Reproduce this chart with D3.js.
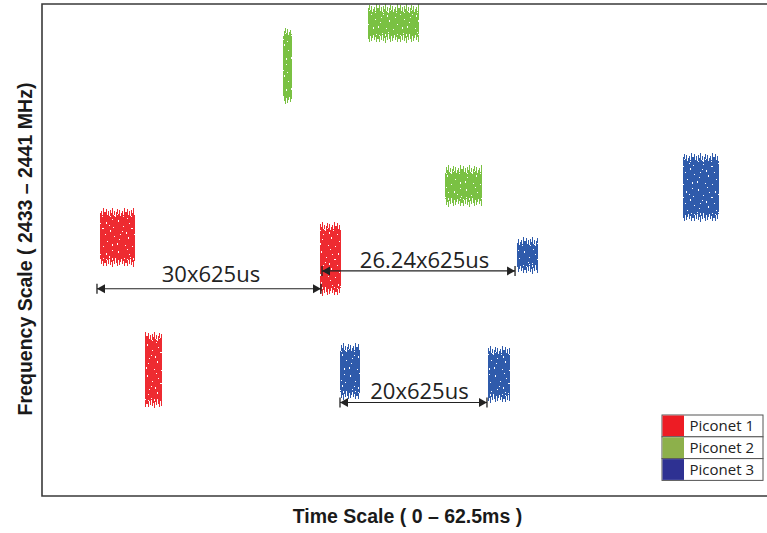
<!DOCTYPE html>
<html>
<head>
<meta charset="utf-8">
<script src="https://cdn.jsdelivr.net/npm/d3@7"></script>
<style>
  html, body { margin: 0; padding: 0; background: #fff; }
  svg { display: block; }
</style>
</head>
<body>
<svg id="chart" width="767" height="533"></svg>
<script>
// ---------- DATA ----------
const piconets = ["Piconet 1", "Piconet 2", "Piconet 3"];
// each burst: piconet index, time start/end (ms), freq low/high (MHz)
const burstPiconet = [0, 0, 0, 1, 1, 1, 2, 2, 2, 2];
const burstStart   = [5.00, 23.97, 8.88, 20.78, 28.10, 34.74, 55.26, 40.95, 25.69, 38.45];
const burstEnd     = [8.02, 25.78, 10.34, 21.55, 32.50, 37.93, 58.36, 42.76, 27.41, 40.34];
const burstFreqLo  = [2436.72, 2436.25, 2434.43, 2439.36, 2440.37, 2437.70, 2437.46, 2436.61, 2434.56, 2434.51];
const burstFreqHi  = [2437.68, 2437.46, 2435.67, 2440.63, 2441.00, 2438.38, 2438.58, 2437.21, 2435.49, 2435.44];

// interval annotations
const spanLabels = ["30x625us", "26.24x625us", "20x625us"];
const spanStart  = [4.74, 24.14, 25.69];
const spanEnd    = [24.05, 40.78, 38.36];
const spanFreq   = [2436.37, 2436.66, 2434.52];

const xTitle = "Time Scale ( 0 \u2013 62.5ms )";
const yTitle = "Frequency Scale ( 2433 \u2013 2441 MHz)";
const timeDomain = [0, 62.5];
const freqDomain = [2433, 2441];

// ---------- STYLE ----------
const burstColors  = ["#ee2b31", "#7ac143", "#2f5bab"];
const legendColors = ["#ed1c24", "#8db04b", "#2e3192"];
const labelLift    = [7, 3, 4];   // px between arrow line and label baseline
const labelShift   = [2, 6, 6];   // px horizontal nudge of label from arrow centre

const plot = { left: 42, top: 4, right: 767, bottom: 496 };

const svg = d3.select("#chart");
const x = d3.scaleLinear().domain(timeDomain).range([plot.left, plot.right]);
const y = d3.scaleLinear().domain(freqDomain).range([plot.bottom, plot.top]);

const defs = svg.append("defs");
defs.append("clipPath").attr("id", "plotClip")
  .append("rect").attr("x", plot.left).attr("y", plot.top)
  .attr("width", plot.right - plot.left).attr("height", plot.bottom - plot.top);

// speckle texture (white gaps) inside the bursts
const speck = defs.append("pattern").attr("id", "speck")
  .attr("patternUnits", "userSpaceOnUse").attr("width", 29).attr("height", 31);
[[2,3,1,2],[11,1,1,1],[19,5,1,2],[25,2,1,1],[7,9,1,1],[15,11,2,1],[23,13,1,2],[4,17,1,1],
 [12,20,1,2],[27,19,1,1],[20,24,1,1],[1,26,1,2],[9,28,1,1],[16,29,1,1],[25,27,1,2],[6,14,1,1],
 [18,17,1,1],[13,6,1,1],[22,8,1,1],[3,22,1,1],[10,15,1,2],[26,10,1,1]]
  .forEach(r => speck.append("rect").attr("x", r[0]).attr("y", r[1]).attr("width", r[2]).attr("height", r[3]).attr("fill", "#fff"));

// ragged fringe textures per colour
const fh = 10;
const topStarts = [4,1,6,3,8,2,5,0,7,3,9,4,1,6,2,8,5,3,7,0,4];
const botLens   = [6,9,3,7,2,8,5,10,4,7,1,6,9,3,8,5,2,7,4,9,6];
const fringeHolesTop = [[2,6,1,1],[9,7,1,1],[15,5,1,2],[18,8,1,1],[5,8,1,1],[12,6,1,1]];
const fringeHolesBot = [[1,2,1,1],[7,1,1,2],[13,3,1,1],[19,1,1,1],[4,0,1,1],[16,2,1,1]];
burstColors.forEach((c, i) => {
  const pt = defs.append("pattern").attr("id", "ft" + i)
    .attr("patternUnits", "userSpaceOnUse").attr("width", topStarts.length).attr("height", fh);
  topStarts.forEach((s, k) => pt.append("rect").attr("x", k).attr("y", s).attr("width", 1).attr("height", fh - s).attr("fill", c));
  fringeHolesTop.forEach(r => pt.append("rect").attr("x", r[0]).attr("y", r[1]).attr("width", r[2]).attr("height", r[3]).attr("fill", "#fff"));
  const pb = defs.append("pattern").attr("id", "fb" + i)
    .attr("patternUnits", "userSpaceOnUse").attr("width", botLens.length).attr("height", fh);
  botLens.forEach((l, k) => pb.append("rect").attr("x", k).attr("y", 0).attr("width", 1).attr("height", l).attr("fill", c));
  fringeHolesBot.forEach(r => pb.append("rect").attr("x", r[0]).attr("y", r[1]).attr("width", r[2]).attr("height", r[3]).attr("fill", "#fff"));
});

// ---------- BURSTS ----------
const bursts = burstPiconet.map((p, i) => ({
  p, t0: burstStart[i], t1: burstEnd[i], f0: burstFreqLo[i], f1: burstFreqHi[i]
}));
const g = svg.append("g").attr("clip-path", "url(#plotClip)");
bursts.forEach(b => {
  const x0 = Math.round(x(b.t0)), x1 = Math.round(x(b.t1));
  const yTop = Math.round(y(b.f1)) + fh, yBot = Math.round(y(b.f0)) - fh;
  const bg = g.append("g");
  bg.append("rect").attr("x", x0).attr("y", yTop).attr("width", x1 - x0).attr("height", yBot - yTop)
    .attr("fill", burstColors[b.p]);
  bg.append("rect").attr("x", x0).attr("y", yTop).attr("width", x1 - x0).attr("height", yBot - yTop)
    .attr("fill", "url(#speck)");
  bg.append("g").attr("transform", `translate(0,${yTop - fh})`)
    .append("rect").attr("x", x0).attr("y", 0).attr("width", x1 - x0).attr("height", fh)
    .attr("fill", `url(#ft${b.p})`);
  bg.append("g").attr("transform", `translate(0,${yBot})`)
    .append("rect").attr("x", x0).attr("y", 0).attr("width", x1 - x0).attr("height", fh)
    .attr("fill", `url(#fb${b.p})`);
});

// ---------- FRAME ----------
svg.append("path")
  .attr("d", `M${plot.right + 10},${plot.top}H${plot.left}V${plot.bottom}H${plot.right + 10}`)
  .attr("fill", "none").attr("stroke", "#3a3a3a").attr("stroke-width", 1.6);

// ---------- SPAN ANNOTATIONS ----------
const arrowCol = "#222";
const ann = svg.append("g");
spanLabels.forEach((lab, i) => {
  const xa = x(spanStart[i]), xb = x(spanEnd[i]), yy = y(spanFreq[i]);
  ann.append("line").attr("x1", xa).attr("x2", xb).attr("y1", yy).attr("y2", yy)
    .attr("stroke", arrowCol).attr("stroke-width", 1.2);
  [xa, xb].forEach(xx => ann.append("line").attr("x1", xx).attr("x2", xx)
    .attr("y1", yy - 5).attr("y2", yy + 5).attr("stroke", arrowCol).attr("stroke-width", 1.3));
  ann.append("path").attr("d", `M${xa},${yy}l8,-4.5v9z`).attr("fill", arrowCol);
  ann.append("path").attr("d", `M${xb},${yy}l-8,-4.5v9z`).attr("fill", arrowCol);
  ann.append("text").attr("x", (xa + xb) / 2 + labelShift[i]).attr("y", yy - labelLift[i])
    .attr("text-anchor", "middle")
    .attr("font-family", "'Open Sans', sans-serif").attr("font-size", 22)
    .attr("fill", "#222").text(lab);
});

// ---------- AXIS TITLES ----------
svg.append("text").attr("x", 407.5).attr("y", 523).attr("text-anchor", "middle")
  .attr("font-family", "'Liberation Sans', Arial, sans-serif").attr("font-weight", "bold")
  .attr("font-size", 19.5).attr("fill", "#1a1a1a").text(xTitle);
svg.append("text").attr("transform", "translate(32,249) rotate(-90)").attr("text-anchor", "middle")
  .attr("font-family", "'Liberation Sans', Arial, sans-serif").attr("font-weight", "bold")
  .attr("font-size", 19.5).attr("fill", "#1a1a1a").text(yTitle);

// ---------- LEGEND ----------
const leg = { x: 662, y: 415, w: 101, rowH: 21.8, sw: 21.5 };
const lg = svg.append("g");
piconets.forEach((name, i) => {
  const ry = leg.y + i * leg.rowH;
  lg.append("rect").attr("x", leg.x).attr("y", ry).attr("width", leg.w).attr("height", leg.rowH)
    .attr("fill", "#fff").attr("stroke", "#555").attr("stroke-width", 1);
  lg.append("rect").attr("x", leg.x + 0.5).attr("y", ry + 0.5).attr("width", leg.sw).attr("height", leg.rowH - 1)
    .attr("fill", legendColors[i]);
  lg.append("text").attr("x", leg.x + leg.sw + 6).attr("y", ry + 16)
    .attr("font-family", "'Open Sans', sans-serif").attr("font-size", 15)
    .attr("fill", "#222").text(name);
});
</script>
</body>
</html>
